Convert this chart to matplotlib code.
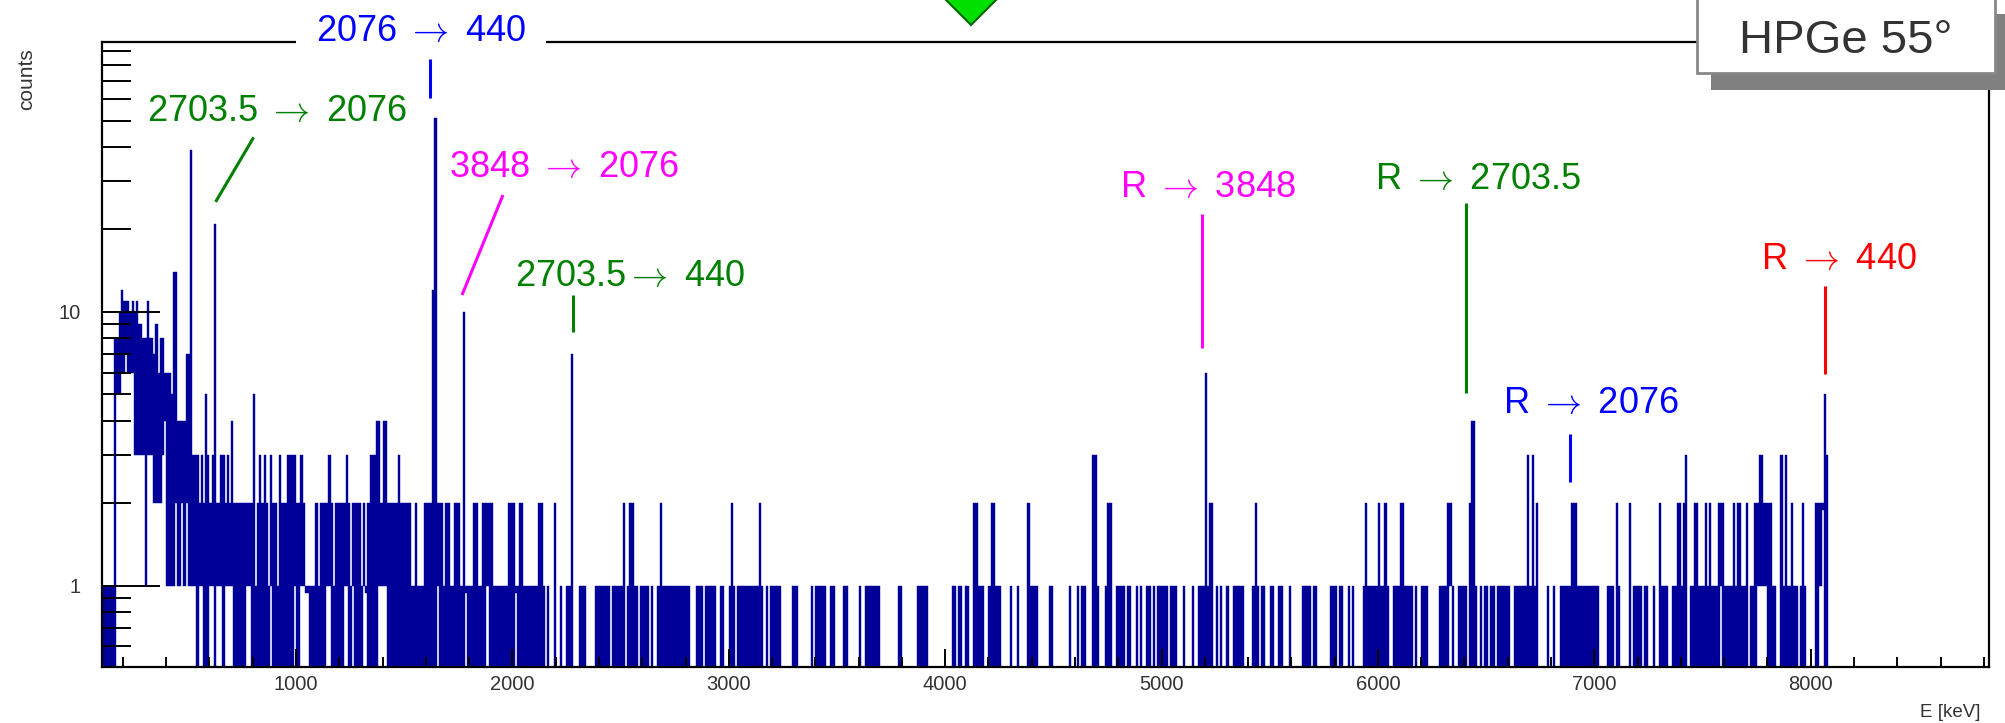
import numpy as np
import matplotlib
matplotlib.use("Agg")
from matplotlib import pyplot as plt
from matplotlib.patches import Rectangle, Polygon
from matplotlib.lines import Line2D

plt.rcParams['font.family'] = ['Liberation Sans', 'DejaVu Sans']
plt.rcParams['mathtext.fontset'] = 'cm'

W, H = 2005, 723

# HPGe 55 deg spectrum in 10 keV columns from 100 keV
# hi = highest count in the column, lo = lowest count (0 -> drops to nothing)
e_first = 100
e_step = 10
hi_rows = [
    "1111118899" "9999999998" "8988796886" "6659944447" "7933323253"
    "2392233232" "4222222222" "5123232132" "2132223333" "2232111112",  # 100 keV
    "1222232122" "2223212222" "1212333442" "4422222322" "2221121112"
    "2229922212" "2112221911" "1122112222" "2111111122" "2112211111",  # 1100
    "1122101002" "0010011700" "0111000011" "1111101111" "1201221101"
    "1110100121" "1111111111" "1100011101" "1111001100" "1210111111",  # 2100
    "1111210101" "1111000001" "1100000010" "1111100110" "0001100000"
    "1001111111" "0000000011" "0000000111" "1100000000" "0001101101",  # 3100
    "1002211100" "1221110000" "1001000021" "1110000011" "0000000100"
    "0101100033" "1000122001" "1110110010" "1001101011" "1110111000",  # 4100
    "1000100111" "6122010100" "1001111100" "0012101100" "1100110001"
    "0000011110" "1100000011" "1011001010" "0001211111" "2112100111",  # 5100
    "2211110100" "1110000011" "1122100111" "1024410101" "1011011111"
    "1001111113" "1312000010" "0100111112" "2211111111" "1100001110",  # 6100
    "2100002011" "1101100100" "2111001122" "1230112211" "1212111222"
    "1111212211" "2011223322" "2211003131" "1211012100" "0022225300",  # 7100
    "0000000000" "0000000000" "0000000000" "0000000000" "0000000000"
    "0000000000" "0000000000" "00",                                    # 8100
]
lo_rows = [
    "0000000556" "6766633333" "1333222234" "1111211212" "1111011000"
    "1101110111" "1000000110" "0000000010" "0000000001" "0011110000",
    "0000110000" "0011001000" "0110000011" "1100000000" "0000000000"
    "0000010000" "0000000010" "0000000010" "0000000000" "0100000000",
    "0" * 100,
    "0" * 100,
    "0" * 100,
    "0" * 100,
    "0000000000" "0000000000" "0001000000" + "0" * 70,
    "0" * 40 + "0000000010" "0000000000" "0000011111" "0000000000"
    "0000000000" "0000120000",
    "0" * 72,
]
# columns above 9 counts (keV, counts)
peaks = [(180, 10), (190, 12), (200, 11), (210, 11), (220, 11), (230, 10),
         (240, 11), (250, 10), (260, 11), (310, 11), (430, 14), (440, 14),
         (510, 39), (620, 21), (1630, 12), (1640, 51), (1770, 10)]

x_ticks = [1000, 2000, 3000, 4000, 5000, 6000, 7000, 8000]
y_ticks = [1, 10]
y_tick_labels = ["1", "10"]
x_lim = (102, 8824)
y_lim = (0.506, 96.8)

navy = "#000099"

hi = np.array([int(c) for c in "".join(hi_rows)], dtype=float)
lo = np.array([int(c) for c in "".join(lo_rows)], dtype=float)
energy = e_first + e_step * np.arange(len(hi))
for e, c in peaks:
    hi[(e - e_first) // e_step] = c

base = np.where(lo > 0, lo, 0.1)
flat = (lo == hi) & (hi > 0)
base[flat] = hi[flat] / 1.06
keep = hi > 0


def fp(x, y):
    # picture pixel -> figure fraction
    return x / W, 1 - y / H


fig = plt.figure(figsize=(W / 100, H / 100), dpi=100)
ax = fig.add_axes([101.7 / W, 1 - 666.7 / H, (1989 - 101.7) / W, (666.7 - 42) / H])

ax.bar(energy[keep], hi[keep] - base[keep], bottom=base[keep], width=e_step,
       align='edge', color=navy, edgecolor=navy, linewidth=0.3)

ax.set_yscale('log')
ax.set_xlim(*x_lim)
ax.set_ylim(*y_lim)

ax.set_xticks(x_ticks)
ax.set_xticks(np.arange(200, 8824, 200), minor=True)
ax.set_yticks(y_ticks)
ax.set_yticklabels(y_tick_labels)
ax.set_yticks([0.6, 0.7, 0.8, 0.9, 2, 3, 4, 5, 6, 7, 8, 9,
               20, 30, 40, 50, 60, 70, 80, 90], minor=True)
ax.yaxis.set_minor_formatter(plt.NullFormatter())

ax.tick_params(axis='x', which='major', direction='in', length=13, width=1.4,
               top=False, labelsize=14.5, pad=6, labelcolor='#333333')
ax.tick_params(axis='x', which='minor', direction='in', length=7.5, width=1.4, top=False)
ax.tick_params(axis='y', which='major', direction='in', length=42, width=1.4,
               right=False, labelsize=14.5, pad=15, labelcolor='#333333')
ax.tick_params(axis='y', which='minor', direction='in', length=21, width=1.4, right=False)
for s in ax.spines.values():
    s.set_linewidth(1.6)
    s.set_color('black')

fig.text(*fp(27, 48), "counts", rotation=90, ha='center', va='top',
         fontsize=15, color='#333333')
fig.text(*fp(1981, 717), "E [keV]", ha='right', va='baseline',
         fontsize=13.5, color='#333333')

# white patch behind the top label
fig.add_artist(Rectangle(fp(296, 56), 249.5 / W, 60 / H, transform=fig.transFigure,
                         facecolor='white', edgecolor='none', zorder=1))

# green marker at the top
fig.add_artist(Polygon([fp(944, -2), fp(998, -2), fp(971, 25)], closed=True,
                       transform=fig.transFigure, facecolor='#00e000',
                       edgecolor='#006400', linewidth=1.5, zorder=2))

# HPGe box with shadow
fig.add_artist(Rectangle(fp(1711, 90), 300 / W, 76 / H, transform=fig.transFigure,
                         facecolor='#808080', edgecolor='none', zorder=2))
fig.add_artist(Rectangle(fp(1697, 73), 298 / W, 80 / H, transform=fig.transFigure,
                         facecolor='white', edgecolor='#888888', linewidth=2, zorder=2.5))
fig.text(*fp(1846, 53), "HPGe 55°", ha='center', va='baseline', fontsize=34,
         color='#333333', zorder=3)

blue, green, magenta, red = "#0000ff", "#008000", "#ff00ff", "#ff0000"
arrow = r"$\rightarrow$"
labels = [
    ("2076 " + arrow + " 440", 421, 41.5, blue),
    ("2703.5 " + arrow + " 2076", 277, 121, green),
    ("3848 " + arrow + " 2076", 564, 177.5, magenta),
    ("2703.5" + arrow + " 440", 630, 286, green),
    ("R " + arrow + " 3848", 1208, 197.3, magenta),
    ("R " + arrow + " 2703.5", 1477.6, 189, green),
    ("R " + arrow + " 2076", 1591, 412.6, blue),
    ("R " + arrow + " 440", 1839, 269, red),
]
for txt, x, y, col in labels:
    fig.text(*fp(x, y), txt, ha='center', va='baseline', fontsize=26, color=col, zorder=3)

markers = [
    (430, 59, 430, 98, blue),
    (253.6, 137.4, 215.6, 201.9, green),
    (503, 195, 462, 295, magenta),
    (573, 295, 573, 332, green),
    (1201.8, 214, 1201.8, 348, magenta),
    (1466.4, 203, 1466.4, 393, green),
    (1569.8, 434, 1569.8, 482, blue),
    (1824.7, 286, 1824.7, 374, red),
]
for x0, y0, x1, y1, col in markers:
    a, b = fp(x0, y0)
    c, d = fp(x1, y1)
    fig.add_artist(Line2D([a, c], [b, d], transform=fig.transFigure, color=col,
                          linewidth=2.2, solid_capstyle='butt', zorder=3))

fig.savefig("out.png", dpi=100, facecolor='white')
